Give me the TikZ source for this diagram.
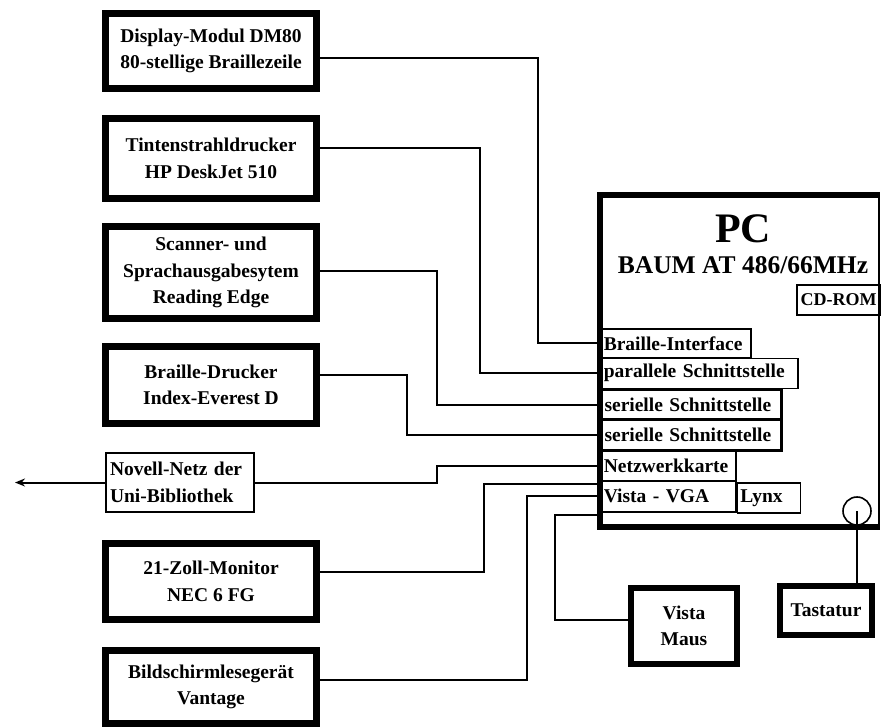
\documentclass[tikz,border=0pt]{standalone}
\usepackage{fontspec}
\setmainfont{Liberation Serif}
\usetikzlibrary{arrows.meta,calc}
\tikzset{
  txt/.style={font=\bfseries\fontsize{19.5}{26.5}\selectfont},
  bigbox/.style={draw, line width=7pt, txt, align=center, inner sep=0pt},
  port/.style={draw, line width=1.6pt, fill=white, txt, align=left, anchor=north west,
    inner xsep=3pt, inner ysep=0pt},
  wire/.style={line width=2pt},
}
\begin{document}
\begin{tikzpicture}[x=1pt,y=-1pt]
\useasboundingbox (0,0) rectangle (882,727);
% left column devices
\node[bigbox, minimum width=211pt, minimum height=75pt] (disp) at (211,51) {Display-Modul DM80\\80-stellige Braillezeile};
\node[bigbox, minimum width=211pt, minimum height=80pt] (tint) at (211,158.5) {Tintenstrahldrucker\\HP DeskJet 510};
\node[bigbox, minimum width=211pt, minimum height=92pt] (scan) at (211,272.5) {Scanner- und\\Sprachausgabesytem\\Reading Edge};
\node[bigbox, minimum width=211pt, minimum height=77pt] (bdr) at (211,385) {Braille-Drucker\\Index-Everest D};
\node[draw, line width=2pt, txt, align=left, inner xsep=4pt, minimum height=59pt, text width=140pt] (novell) at (180,482.5) {Novell-Netz der\\Uni-Bibliothek};
\node[bigbox, minimum width=211pt, minimum height=76pt] (mon) at (211,581.5) {21-Zoll-Monitor\\NEC 6 FG};
\node[bigbox, minimum width=211pt, minimum height=73pt] (bsg) at (211,687) {Bildschirmlesegerät\\Vantage};
\coordinate (tip) at (15,482.5);
% PC
\node[minimum width=279pt, minimum height=332pt, inner sep=0pt] (pc) at (739.5,361) {};
\node[font=\bfseries\fontsize{42}{42}\selectfont] (pctitle) at (743,229) {PC};
\node[font=\bfseries\fontsize{25.5}{25.5}\selectfont] (pcsub) at (743,265) {BAUM AT 486/66MHz};
\node[draw, line width=1.6pt, font=\bfseries\fontsize{18}{18}\selectfont, inner sep=1pt, minimum width=83pt, minimum height=30pt] (cdrom) at (838.5,300) {CD-ROM};
% ports
\node[port, text width=144pt, minimum height=29pt] (bi) at (600,328) {Braille-Interface};
\node[port, text width=191pt, minimum height=30pt] (par) at (600,357.5) {parallele Schnittstelle};
\node[port, line width=3pt, text width=174pt, minimum height=30pt] (ser1) at (600,388) {serielle Schnittstelle};
\node[port, line width=3pt, text width=174pt, minimum height=31pt] (ser2) at (600,418) {serielle Schnittstelle};
\node[port, text width=129pt, minimum height=30pt] (net) at (600,450) {Netzwerkkarte};
\node[port, text width=129pt, minimum height=31pt] (vga) at (600,480) {Vista - VGA};
\node[port, anchor=west, text width=57pt, minimum height=30pt] (lynx) at ([yshift=-1.5pt]vga.east) {Lynx};
\draw[line width=6pt, line join=miter] (pc.north east) -- (pc.north west) -- (pc.south west) -- (pc.south east);
\draw[line width=1.6pt] ([yshift=3pt]pc.north east) -- ([yshift=-3pt]pc.south east);
\node[circle, draw, line width=1.6pt, minimum size=28pt, inner sep=0pt] (kbport) at (857,511) {};
% peripherals below
\node[bigbox, line width=6pt, minimum width=106pt, minimum height=76pt] (maus) at (684,626) {Vista\\Maus};
\node[bigbox, line width=6pt, minimum width=92pt, minimum height=49pt] (tast) at (826,610.5) {Tastatur};
% connectors
\draw[wire] ([yshift=-7pt]disp.east) -| ([xshift=-62pt]bi.west) -- (bi.west);
\draw[wire] ([yshift=10pt]tint.east) -| ([xshift=-120pt]par.west) -- (par.west);
\draw[wire] ([yshift=1.5pt]scan.east) -| ([xshift=-163pt]ser1.west) -- (ser1.west);
\draw[wire] ([yshift=10pt]bdr.east) -| ([xshift=-193pt]ser2.west) -- (ser2.west);
\draw[wire] (net.west) -- ([xshift=-163pt]net.west) |- (novell.east);
\draw[wire, -{Stealth[length=10pt,width=8pt]}] (novell.west) -- (tip);
\draw[wire] ([yshift=12.5pt]vga.west) -| ([xshift=163.5pt,yshift=9.5pt]mon.east) -- ([yshift=9.5pt]mon.east);
\draw[wire] ([yshift=7pt]bsg.east) -| ([xshift=-73pt]vga.west) -- (vga.west);
\draw[wire] ([yshift=6pt]maus.west) -| ([xshift=-45pt,yshift=-2pt]vga.south west) -- ([yshift=-2pt]vga.south west);
\draw[line width=1.6pt] (kbport.center) -- (kbport.center |- tast.north);
\end{tikzpicture}
\end{document}
